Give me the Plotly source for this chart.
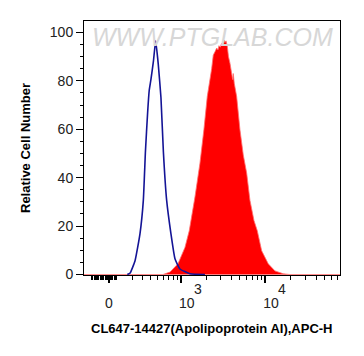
import numpy as np
import plotly.graph_objects as go

# ---------------- data (fluorescence intensity vs relative cell number) ----------------
blue_intensity = [150, 174, 222, 274, 311, 336, 363, 383, 406, 440, 473, 513, 558, 601,
                  662, 750, 843, 971, 1285, 1943]
blue_count = [0, 0.5, 5.6, 16.9, 30.6, 51, 67, 76, 80.6, 88, 96.5, 87, 73, 50.5,
              30.6, 16.9, 6.5, 2.3, 0.3, 0]

red_intensity = [-211, 592, 729, 918, 1118, 1260, 1476, 1694, 1890, 2069, 2333, 2437, 2553,
                 2675, 2771, 2846, 2950, 3065, 3175, 3264, 3352, 3446, 3568, 3686, 3840,
                 4000, 4132, 4200, 4315, 4605, 4811, 5037, 5510, 6041, 6607, 7363, 8054,
                 9074, 10850, 13010, 16300, 19530, 75700]
red_count = [0, 0, 1, 4.4, 11.2, 18.1, 32, 46, 60, 73.5, 85, 90.6, 92,
             93.5, 92.8, 94.5, 93.9, 95.6, 95, 96.8, 95.8, 96.5, 94.5, 90, 87.3,
             83.5, 80.5, 83, 79, 73.5, 66.9, 59.8, 49.4, 41.9, 30.6, 22.3, 18.1,
             9.8, 4.4, 1.5, 0.3, 0, 0]

x_tick_values = [0, 1000, 10000]
x_tick_labels = ["0", "\u00a0\u00a0\u00a010", "\u00a0\u00a0\u00a010"]
x_tick_exponents = ["", "3", "4"]
x_minor_values = ([-140, -130, -120, -110, -100, -90, -80, -70, -60, -50, -40, -30, -20, -10,
                   10, 20, 30, 40, 50, 60] +
                  [200, 300, 400, 500, 600, 700, 800, 900] +
                  [2000, 3000, 4000, 5000, 6000, 7000, 8000, 9000] +
                  [20000, 30000, 40000, 50000, 60000, 70000])
x_limits = [-211, 75700]
y_tick_values = [0, 20, 40, 60, 80, 100]
y_limits = [-0.2, 104.7]

x_title = "CL647-14427(Apolipoprotein AI),APC-H"
y_title = "Relative Cell Number"
watermark = "WWW.PTGLAB.COM"


def biex(v):
    """arcsinh display transform (biexponential-like)."""
    return np.arcsinh(np.asarray(v, dtype=float) / 290.0) / np.log(10)


FONT = "Liberation Sans, Arial, sans-serif"

fig = go.Figure()
fig.add_trace(go.Scatter(
    x=biex(red_intensity), y=red_count, mode="lines",
    line=dict(color="rgb(255,110,110)", width=0.8),
    fill="tozeroy", fillcolor="rgb(255,0,0)", hoverinfo="skip", showlegend=False))
fig.add_trace(go.Scatter(
    x=biex(blue_intensity), y=blue_count, mode="lines",
    line=dict(color="rgb(20,20,150)", width=1.6, shape="spline", smoothing=0.4),
    hoverinfo="skip", showlegend=False))

fig.add_annotation(
    text=watermark, xref="paper", yref="paper", x=0.5, y=1.0, yanchor="top",
    xanchor="center", showarrow=False,
    font=dict(family=FONT, size=25, color="rgb(215,215,215)", style="italic"))

# exponents of the decade labels
for val, exp in zip(x_tick_values, x_tick_exponents):
    if exp:
        fig.add_annotation(
            text=exp, x=float(biex(val)), xref="x", yref="paper", y=0,
            xanchor="left", yanchor="middle", xshift=11, yshift=-14,
            showarrow=False, font=dict(family=FONT, size=14, color="#222"))

# x-axis title
fig.add_annotation(
    text="<b>" + x_title + "</b>", xref="paper", yref="paper", x=0.5, y=0,
    xanchor="center", yanchor="middle", yshift=-53, showarrow=False,
    font=dict(family=FONT, size=13, color="black"))

# the page body has an 8px default margin, so the figure is sized/offset to compensate
fig.update_layout(
    width=356, height=348, autosize=False,
    margin=dict(l=76, r=24, t=13, b=81),
    paper_bgcolor="white", plot_bgcolor="white",
    font=dict(family=FONT, color="#222"),
    xaxis=dict(
        range=list(biex(x_limits)), showgrid=False, zeroline=False,
        showline=True, linecolor="black", linewidth=1, mirror=True,
        tickmode="array", tickvals=list(biex(x_tick_values)), ticktext=x_tick_labels,
        ticks="outside", ticklen=7, tickwidth=1.5, tickcolor="black",
        tickfont=dict(size=14, color="#222"), ticklabelstandoff=8,
        minor=dict(tickmode="array", tickvals=list(biex(x_minor_values)),
                   ticks="outside", ticklen=4, tickwidth=1, tickcolor="black"),
    ),
    yaxis=dict(
        range=y_limits, showgrid=False, zeroline=False,
        showline=True, linecolor="black", linewidth=1, mirror=True,
        tickmode="array", tickvals=y_tick_values,
        ticks="outside", ticklen=7, tickwidth=1, tickcolor="black",
        tickfont=dict(size=14, color="#222"),
        minor=dict(dtick=5, tick0=0, ticks="outside", ticklen=3.5, tickwidth=1,
                   tickcolor="black"),
        title=dict(text="<b>" + y_title + "</b>", standoff=16,
                   font=dict(size=13, color="black")),
    ),
)

fig.write_html("out.html")
